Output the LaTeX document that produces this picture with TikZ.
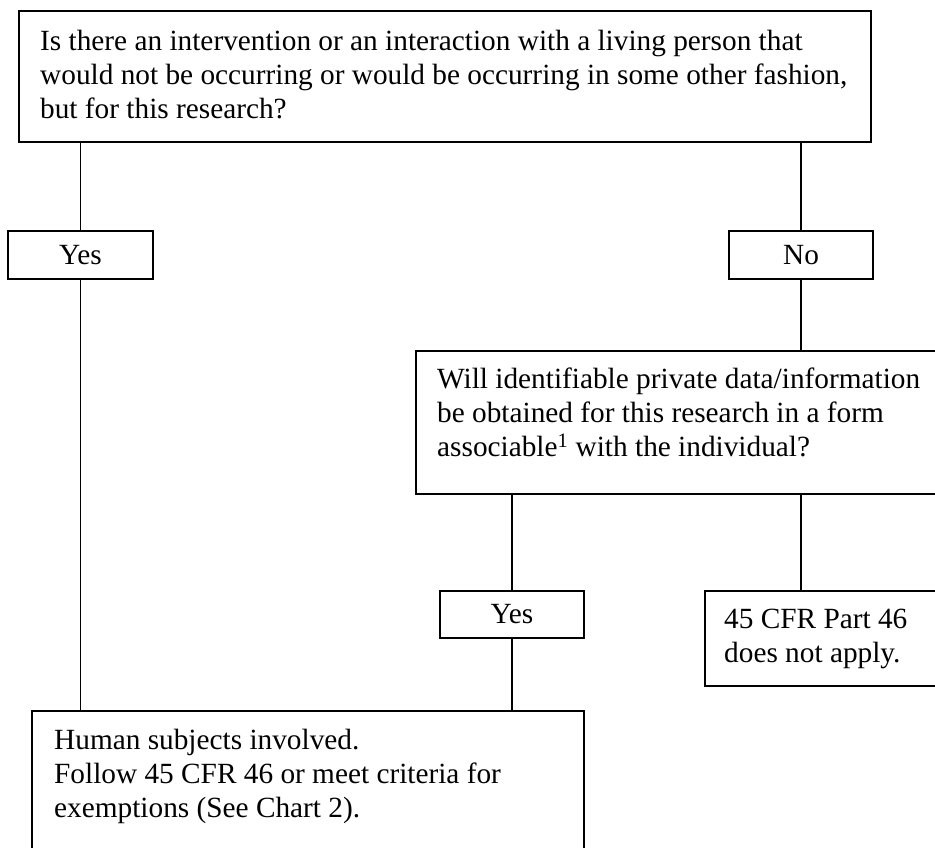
\documentclass[tikz,border=0pt]{standalone}
\usepackage{fontspec}
\setmainfont{Liberation Serif}
\usetikzlibrary{positioning}

\begin{document}
\begin{tikzpicture}[x=1pt,y=-1pt,
  every node/.style={font=\fontsize{29.3}{34}\selectfont},
  box/.style={draw,line width=1.6pt,rectangle,anchor=north west,inner sep=0pt,outer sep=0pt},
  txt/.style={anchor=north west,inner sep=0pt,align=left},
  link/.style={line width=1.6pt}]

\useasboundingbox (0,0) rectangle (935,848);

        % questions
        \node[box,minimum width=852pt,minimum height=131pt] (Q1) at (19,11) {};
        \node[txt] (Q1t) at (40,30) {Is there an intervention or an interaction with a living person that\\
          would not be occurring or would be occurring in some other fashion,\\
          but for this research?};

        \node[box,minimum width=145pt,minimum height=48pt] (Y1) at (8,231) {Yes};
        \node[box,minimum width=144pt,minimum height=48pt] (N1) at (729,231) {No};

        \node[box,minimum width=522pt,minimum height=143pt] (Q2) at (416,351) {};
        \node[txt] (Q2t) at (437,368) {Will identifiable private data/information\\
          be obtained for this research in a form\\
          associable\textsuperscript{1} with the individual?};

        \node[box,minimum width=144pt,minimum height=47pt] (Y2) at (440,591) {Yes};
        \node[box,minimum width=233pt,minimum height=95pt] (NA) at (705,591) {};
        \node[txt] (NAt) at (724,609) {45 CFR Part 46\\ does not apply.};

        % result
        \node[box,minimum width=552pt,minimum height=142pt] (HS) at (32,711) {};
        \node[txt] (HSt) at (54,729) {Human subjects involved.\\
          Follow 45 CFR 46 or meet criteria for\\
          exemptions (See Chart 2).};

        \draw[link] (Y1.north |- Q1.south) -- (Y1.north);
        \draw[link] (N1.north |- Q1.south) -- (N1.north);
        \draw[link] (N1.south) -- (N1.south |- Q2.north);
        \draw[link] (Y2.north |- Q2.south) -- (Y2.north);
        \draw[link] (N1.south |- Q2.south) -- (N1.south |- NA.north);
        \draw[link] (Y1.south) -- (Y1.south |- HS.north);
        \draw[link] (Y2.south) -- (Y2.south |- HS.north);
\end{tikzpicture}
\end{document}
